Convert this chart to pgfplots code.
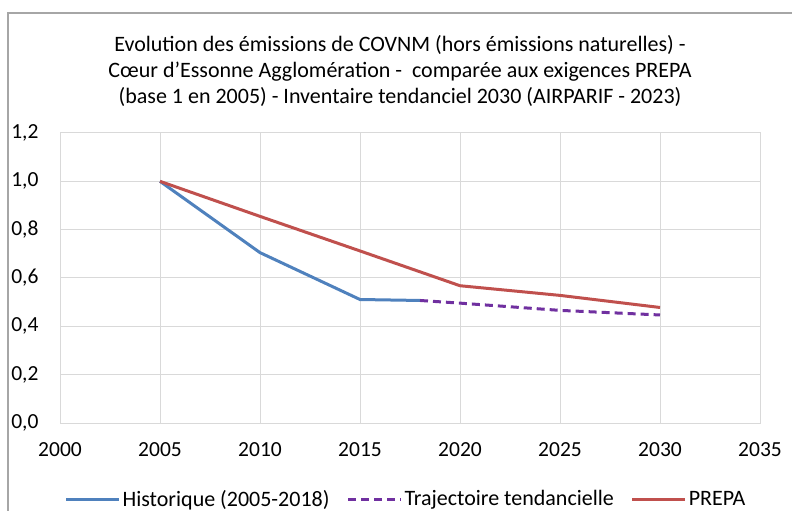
\documentclass[border=0pt]{standalone}
\usepackage{pgfplots}
\pgfplotsset{compat=1.18}
\usepackage{fontspec}
\setmainfont{Carlito}
\definecolor{cblue}{HTML}{4F81BD}
\definecolor{cred}{HTML}{C0504D}
\definecolor{cpurple}{HTML}{7030A0}
\definecolor{cgrid}{HTML}{D9D9D9}
\begin{document}
\begin{tikzpicture}
\useasboundingbox (0bp,0bp) rectangle (792bp,511bp);
\draw[color=gray!70, line width=1.2bp] (8bp,0bp) -- (8bp,498bp) -- (792bp,498bp);
\node[align=center, font=\fontsize{22bp}{26bp}\selectfont, inner sep=0pt] at (400bp,440bp) {Evolution des émissions de COVNM (hors émissions naturelles) -\\Cœur d'Essonne Agglomération -\ \ comparée aux exigences PREPA\\(base 1 en 2005) - Inventaire tendanciel 2030 (AIRPARIF - 2023)};
\begin{axis}[
  at={(60bp,88bp)}, anchor=south west,
  scale only axis, width=700bp, height=290bp,
  xmin=2000, xmax=2035, ymin=0, ymax=1.2,
  xtick={2000,2005,...,2035},
  xticklabels={2000,2005,2010,2015,2020,2025,2030,2035},
  ytick={0,0.2,0.4,0.6,0.8,1.0,1.2},
  yticklabels={{0,0},{0,2},{0,4},{0,6},{0,8},{1,0},{1,2}},
  major tick length=0pt,
  grid=major, grid style={cgrid, line width=1bp},
  axis line style={cgrid, line width=1bp},
  tick label style={font=\fontsize{21.5bp}{25bp}\selectfont, text=black},
  y tick label style={anchor=east, xshift=-18bp},
  x tick label style={anchor=center, yshift=-27bp},
  legend style={at={(346bp,-76bp)}, anchor=center, draw=none, fill=none,
    legend columns=3, font=\fontsize{22bp}{25bp}\selectfont,
    /tikz/every even column/.append style={column sep=15bp},
    legend cell align=left},
  legend image code/.code={\draw[#1] (0bp,0bp) -- (53bp,0bp);},
  clip=false,
]
\addplot[cblue, line width=3bp] coordinates {(2005,1.0) (2010,0.705) (2015,0.511) (2018,0.507)};
\addlegendentry{Historique (2005-2018)}
\addplot[cpurple, line width=3bp, dash pattern=on 8bp off 5bp] coordinates {(2018,0.507) (2020,0.496) (2025,0.466) (2030,0.447)};
\addlegendentry{Trajectoire tendancielle}
\addplot[cred, line width=3bp] coordinates {(2005,1.0) (2010,0.855) (2015,0.712) (2020,0.568) (2025,0.528) (2030,0.478)};
\addlegendentry{PREPA}
\end{axis}
\end{tikzpicture}
\end{document}
